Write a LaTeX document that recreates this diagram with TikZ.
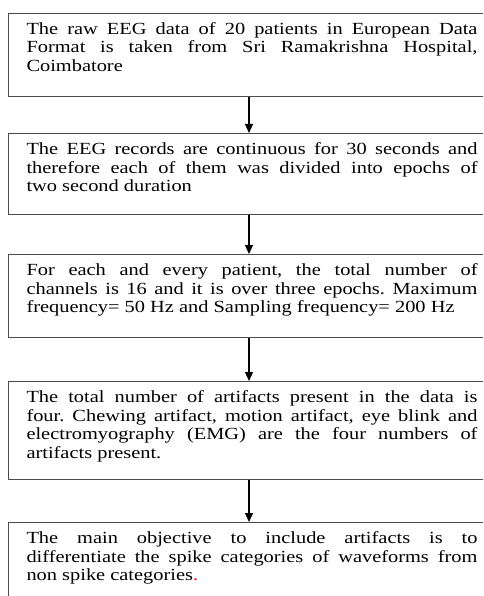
\documentclass[tikz,border=0pt]{standalone}
\usepackage{fontspec}
\setmainfont[FakeStretch=1.2]{Liberation Serif}
\usetikzlibrary{arrows.meta}
\frenchspacing
\begin{document}
\begin{tikzpicture}[x=1pt,y=-1pt,>={Stealth[length=9pt,width=8pt,inset=0pt]},
    caja/.style={draw=black!70,line width=1pt,anchor=north west,
      text width=451pt,align=justify,inner xsep=18pt,inner ysep=0pt,
      text height=21pt,text depth=#1,font=\fontsize{17}{18.5}\selectfont}]

    % Marco
    \useasboundingbox (0,0) rectangle (483,596);
    \clip (0,0) rectangle (483,596);

    % Cajas
    \node[caja=62pt] (datos) at (8,13) {The raw EEG data of 20 patients in European Data\linebreak
      Format is taken from Sri Ramakrishna Hospital,\linebreak Coimbatore};
    \node[caja=60pt] (epocas) at (8,133) {The EEG records are continuous for 30 seconds and\linebreak
      therefore each of them was divided into epochs of\linebreak two second duration};
    \node[caja=62pt] (canales) at (8,254) {For each and every patient, the total number of\linebreak
      channels is 16 and it is over three epochs. Maximum\linebreak
      frequency= 50 Hz and Sampling frequency= 200 Hz};
    \node[caja=77pt] (artefactos) at (8,381) {The total number of artifacts present in the data is\linebreak
      four. Chewing artifact, motion artifact, eye blink and\linebreak
      electromyography (EMG) are the four numbers of\linebreak artifacts present.};
    \node[caja=90pt] (objetivo) at (8,522) {The main objective to include artifacts is to\linebreak
      differentiate the spike categories of waveforms from\linebreak
      non spike categories\textcolor{red}{.}};

    % Flechas
    \draw[->,line width=1.2pt] ([xshift=-3pt]datos.south) -- ([xshift=-3pt]epocas.north);
    \draw[->,line width=1.2pt] ([xshift=-3pt]epocas.south) -- ([xshift=-3pt]canales.north);
    \draw[->,line width=1.2pt] ([xshift=-3pt]canales.south) -- ([xshift=-3pt]artefactos.north);
    \draw[->,line width=1.2pt] ([xshift=-3pt]artefactos.south) -- ([xshift=-3pt]objetivo.north);

\end{tikzpicture}
\end{document}
